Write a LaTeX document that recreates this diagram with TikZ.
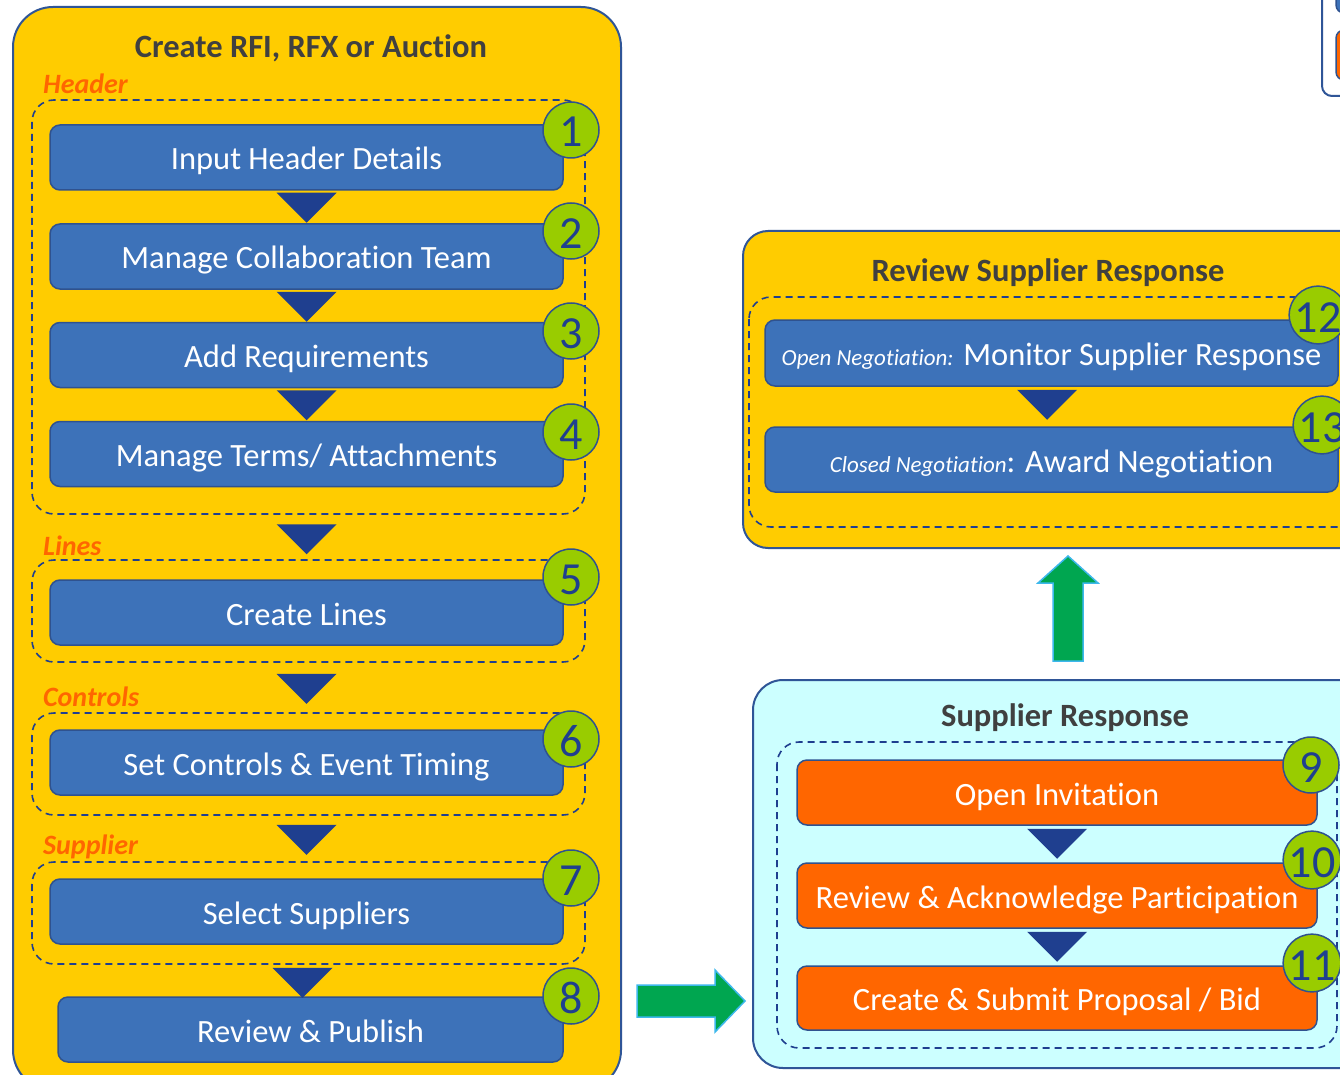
\documentclass[tikz,border=0pt]{standalone}
\usepackage{fontspec}
\setmainfont{Carlito}[Ligatures=NoCommon]
\usetikzlibrary{calc}
\definecolor{gold}{HTML}{FFCC00}
\definecolor{pborder}{HTML}{2F5597}
\definecolor{boxblue}{HTML}{3D72B9}
\definecolor{boxedge}{HTML}{2F528F}
\definecolor{navy}{HTML}{1F3F8F}
\definecolor{numgreen}{HTML}{99CC00}
\definecolor{ttlgray}{HTML}{404040}
\definecolor{lblorange}{HTML}{FF6600}
\definecolor{cyanbg}{HTML}{CCFFFF}
\definecolor{orangebox}{HTML}{FF6600}
\definecolor{arrgreen}{HTML}{00A650}
\definecolor{arredge}{HTML}{3DB8EC}
\newcommand\chev[1]{\fill[tri] #1 ++(-30,0) -- ++(60,0) -- ++(-30,30) -- cycle;}
\begin{document}
\begin{tikzpicture}[x=1pt,y=-1pt,
  panel/.style={draw=pborder,line width=2pt},
  grp/.style={draw=navy,line width=1.6pt,dash pattern=on 7pt off 5pt,rounded corners=22pt},
  ttl/.style={inner sep=0,text=ttlgray,font=\fontsize{32.5}{38}\selectfont\bfseries},
  lbl/.style={inner sep=0,anchor=west,text=lblorange,font=\fontsize{28}{32}\selectfont\bfseries\itshape},
  stepbox/.style={draw=boxedge,line width=1.5pt,fill=boxblue,rounded corners=10pt,text=white,
    minimum height=65pt,inner sep=0,text height=27pt,text depth=2pt,font=\fontsize{32.5}{38}\selectfont},
  obox/.style={stepbox,fill=orangebox},
  num/.style={circle,fill=numgreen,draw=boxedge,line width=1.5pt,minimum size=56pt,inner sep=0,
    text height=34pt,text depth=0pt,text=navy,font=\fontsize{46}{46}\selectfont},
  tri/.style={fill=navy},
  bigarrow/.style={fill=arrgreen,draw=arredge,line width=1.5pt}
]
\useasboundingbox (0,0) rectangle (1340,1075);
\fill[white] (0,0) rectangle (1340,1075);

% ---------- left panel ----------
\draw[panel,fill=gold,rounded corners=40pt] (13,7) rectangle (621,1090);
\node[ttl] (t1) at (311,48) {Create RFI, RFX or Auction};

\draw[grp] (32,100) rectangle (585,514);
\draw[grp] (32,560) rectangle (585,662);
\draw[grp] (32,713) rectangle (585,815);
\draw[grp] (32,862) rectangle (585,964);

\node[lbl] (lh) at (43,84) {Header};
\node[lbl] (ll) at (43,546) {Lines};
\node[lbl] (lc) at (43,697) {Controls};
\node[lbl] (ls) at (43,847) {Supplier};

\node[stepbox,minimum width=513pt] (b1) at (306.5,157.5) {Input Header Details};
\node[stepbox,minimum width=513pt] (b2) at (306.5,256.5) {Manage Collaboration Team};
\node[stepbox,minimum width=513pt] (b3) at (306.5,355) {Add Requirements};
\node[stepbox,minimum width=513pt] (b4) at (306.5,454) {Manage Terms/ Attachments};
\node[stepbox,minimum width=513pt] (b5) at (306.5,612.5) {Create Lines};
\node[stepbox,minimum width=513pt] (b6) at (306.5,762.5) {Set Controls \& Event Timing};
\node[stepbox,minimum width=513pt] (b7) at (306.5,911.5) {Select Suppliers};
\node[stepbox,minimum width=505pt] (b8) at (310.5,1029.5) {Review \& Publish};

\chev{([yshift=-2pt]b1.south)}
\chev{([yshift=-2pt]b2.south)}
\chev{([yshift=-2pt]b3.south)}
\chev{([yshift=-37pt]b4.south)}
\chev{([yshift=-28pt]b5.south)}
\chev{([yshift=-29pt]b6.south)}
\chev{([xshift=-4pt,yshift=-23pt]b7.south)}

\node[num] (n1) at (571,130) {1};
\node[num] (n2) at (571,231) {2};
\node[num] (n3) at (571,331) {3};
\node[num] (n4) at (571,432) {4};
\node[num] (n5) at (571,577) {5};
\node[num] (n6) at (571,739) {6};
\node[num] (n7) at (571,878) {7};
\node[num] (n8) at (571,996) {8};

% ---------- review supplier response ----------
\draw[panel,fill=gold,rounded corners=25pt] (743,231) rectangle (1380,548);
\node[ttl] (t2) at (1048,273) {Review Supplier Response};
\draw[grp] (749,297) rectangle (1370,527);
\node[stepbox,minimum width=573pt,minimum height=66pt] (b12) at (1051.5,353)
  {{\fontsize{23}{26}\selectfont\itshape Open Negotiation:} Monitor Supplier Response};
\node[stepbox,minimum width=573pt] (b13) at (1051.5,459.5)
  {{\fontsize{23}{26}\selectfont\itshape Closed Negotiation}: Award Negotiation};
\chev{([xshift=-4.5pt,yshift=-3pt]b12.south)}
\node[num] (n12) at (1318,315) {12};
\node[num] (n13) at (1322,425) {13};

% ---------- supplier response ----------
\draw[panel,fill=cyanbg,rounded corners=30pt] (753,680) rectangle (1380,1068);
\node[ttl] (t3) at (1065,718) {Supplier Response};
\draw[grp] (777,742) rectangle (1337,1048);
\node[obox,minimum width=520pt] (o9) at (1057,792.5) {Open Invitation};
\node[obox,minimum width=520pt] (o10) at (1057,895.5) {Review \& Acknowledge Participation};
\node[obox,minimum width=520pt,minimum height=64pt] (o11) at (1057,998) {Create \& Submit Proposal / Bid};
\chev{([yshift=-3pt]o9.south)}
\chev{([yshift=-3pt]o10.south)}
\node[num] (n9) at (1311,765) {9};
\node[num] (n10) at (1312,860) {10};
\node[num] (n11) at (1312,963) {11};

% ---------- green block arrows ----------
\draw[bigarrow] (637,985) -- (715,985) -- (715,970) -- (745,1001) -- (715,1032) -- (715,1017) -- (637,1017) -- cycle;
\draw[bigarrow] (1053,661) -- (1083,661) -- (1083,583) -- (1098,583) -- (1068,556) -- (1038,583) -- (1053,583) -- cycle;

% ---------- partial legend (top right) ----------
\draw[panel,fill=white,rounded corners=10pt] (1322,-40) rectangle (1400,96);
\draw[draw=boxedge,line width=1.5pt,fill=boxblue,rounded corners=8pt] (1336,-40) rectangle (1400,13);
\draw[draw=boxedge,line width=1.5pt,fill=orangebox,rounded corners=8pt] (1336,30) rectangle (1400,80);
\end{tikzpicture}
\end{document}
